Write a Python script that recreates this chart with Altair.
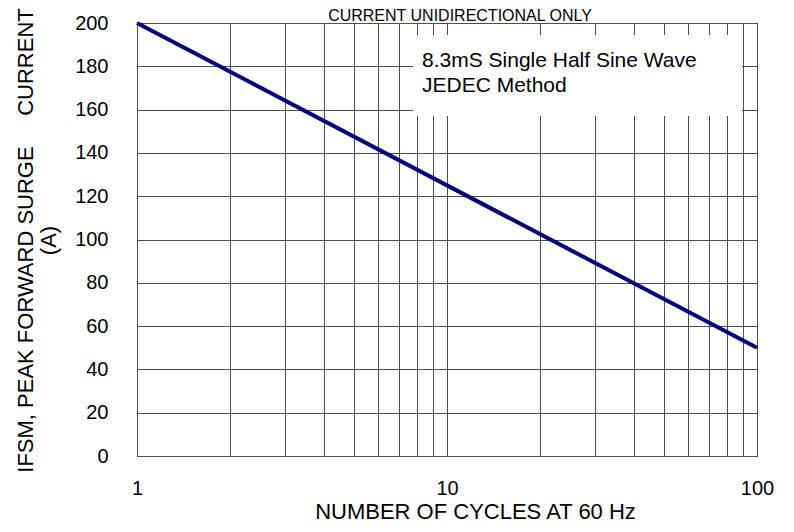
import altair as alt
import pandas as pd

# ---- data ----
cycles = [1, 100]
current = [200, 50]
x_grid_values = [1, 2, 3, 4, 5, 6, 7, 8, 9, 10, 20, 30, 40, 50, 60, 70, 80, 90, 100]
x_label_values = [1, 10, 100]
y_grid_values = [0, 20, 40, 60, 80, 100, 120, 140, 160, 180, 200]
title_text = "CURRENT UNIDIRECTIONAL ONLY"
note_lines = ["8.3mS Single Half Sine Wave", "JEDEC Method"]
x_title = "NUMBER OF CYCLES AT 60 Hz"
y_title = ["IFSM, PEAK FORWARD SURGE" + "\u00a0" * 5 + "CURRENT", "(A)"]

FONT = "Liberation Sans, Arial, Helvetica, sans-serif"

df = pd.DataFrame({"cycles": cycles, "current": current})
one = pd.DataFrame({"k": [0]})

label_expr = f"indexof({x_label_values}, datum.value) >= 0 ? datum.label : ''"

line = alt.Chart(df).mark_line(color="#000080", strokeWidth=4).encode(
    x=alt.X(
        "cycles:Q",
        scale=alt.Scale(type="log", domain=[1, 100], nice=False),
        axis=alt.Axis(
            values=x_grid_values,
            format="d",
            labelExpr=label_expr,
            labelOverlap=False,
            labelFlush=False,
            labelPadding=22,
            title=x_title,
            titleX=338,
            titleY=62,
            titleAlign="center",
            titleBaseline="alphabetic",
        ),
    ),
    y=alt.Y(
        "current:Q",
        scale=alt.Scale(domain=[0, 200], nice=False),
        axis=alt.Axis(
            values=y_grid_values,
            labelPadding=29,
            title=y_title,
            titleX=-105,
            titleY=217,
            titleAngle=270,
            titleAlign="center",
            titleBaseline="alphabetic",
            titleLineHeight=23,
        ),
    ),
)

box = alt.Chart(one).mark_rect(fill="white", stroke=None).encode(
    x=alt.value(276), x2=alt.value(605), y=alt.value(12), y2=alt.value(93)
)

note = alt.Chart(one).mark_text(
    text=note_lines,
    align="left",
    baseline="alphabetic",
    lineHeight=25,
    fontSize=21,
    font=FONT,
    color="black",
).encode(x=alt.value(285), y=alt.value(44))

title = alt.Chart(one).mark_text(
    text=title_text,
    align="center",
    baseline="alphabetic",
    fontSize=16,
    font=FONT,
    color="black",
).encode(x=alt.value(323), y=alt.value(-2))

chart = (
    alt.layer(box, note, line, title)
    .properties(
        width=620,
        height=433,
        autosize=alt.AutoSizeParams(type="none"),
        padding={"left": 129, "top": 15, "right": 29, "bottom": 68},
        background="white",
    )
    .configure_view(stroke="black", strokeWidth=1)
    .configure_axis(
        domain=False,
        ticks=False,
        tickSize=0,
        grid=True,
        gridColor="#4d4d4d",
        gridWidth=1,
        gridOpacity=1,
        labelFont=FONT,
        labelFontSize=20,
        labelColor="black",
        titleFont=FONT,
        titleFontSize=22,
        titleFontWeight="normal",
        titleColor="black",
    )
)

chart.save("out.html", embed_options={"renderer": "svg", "actions": False})
